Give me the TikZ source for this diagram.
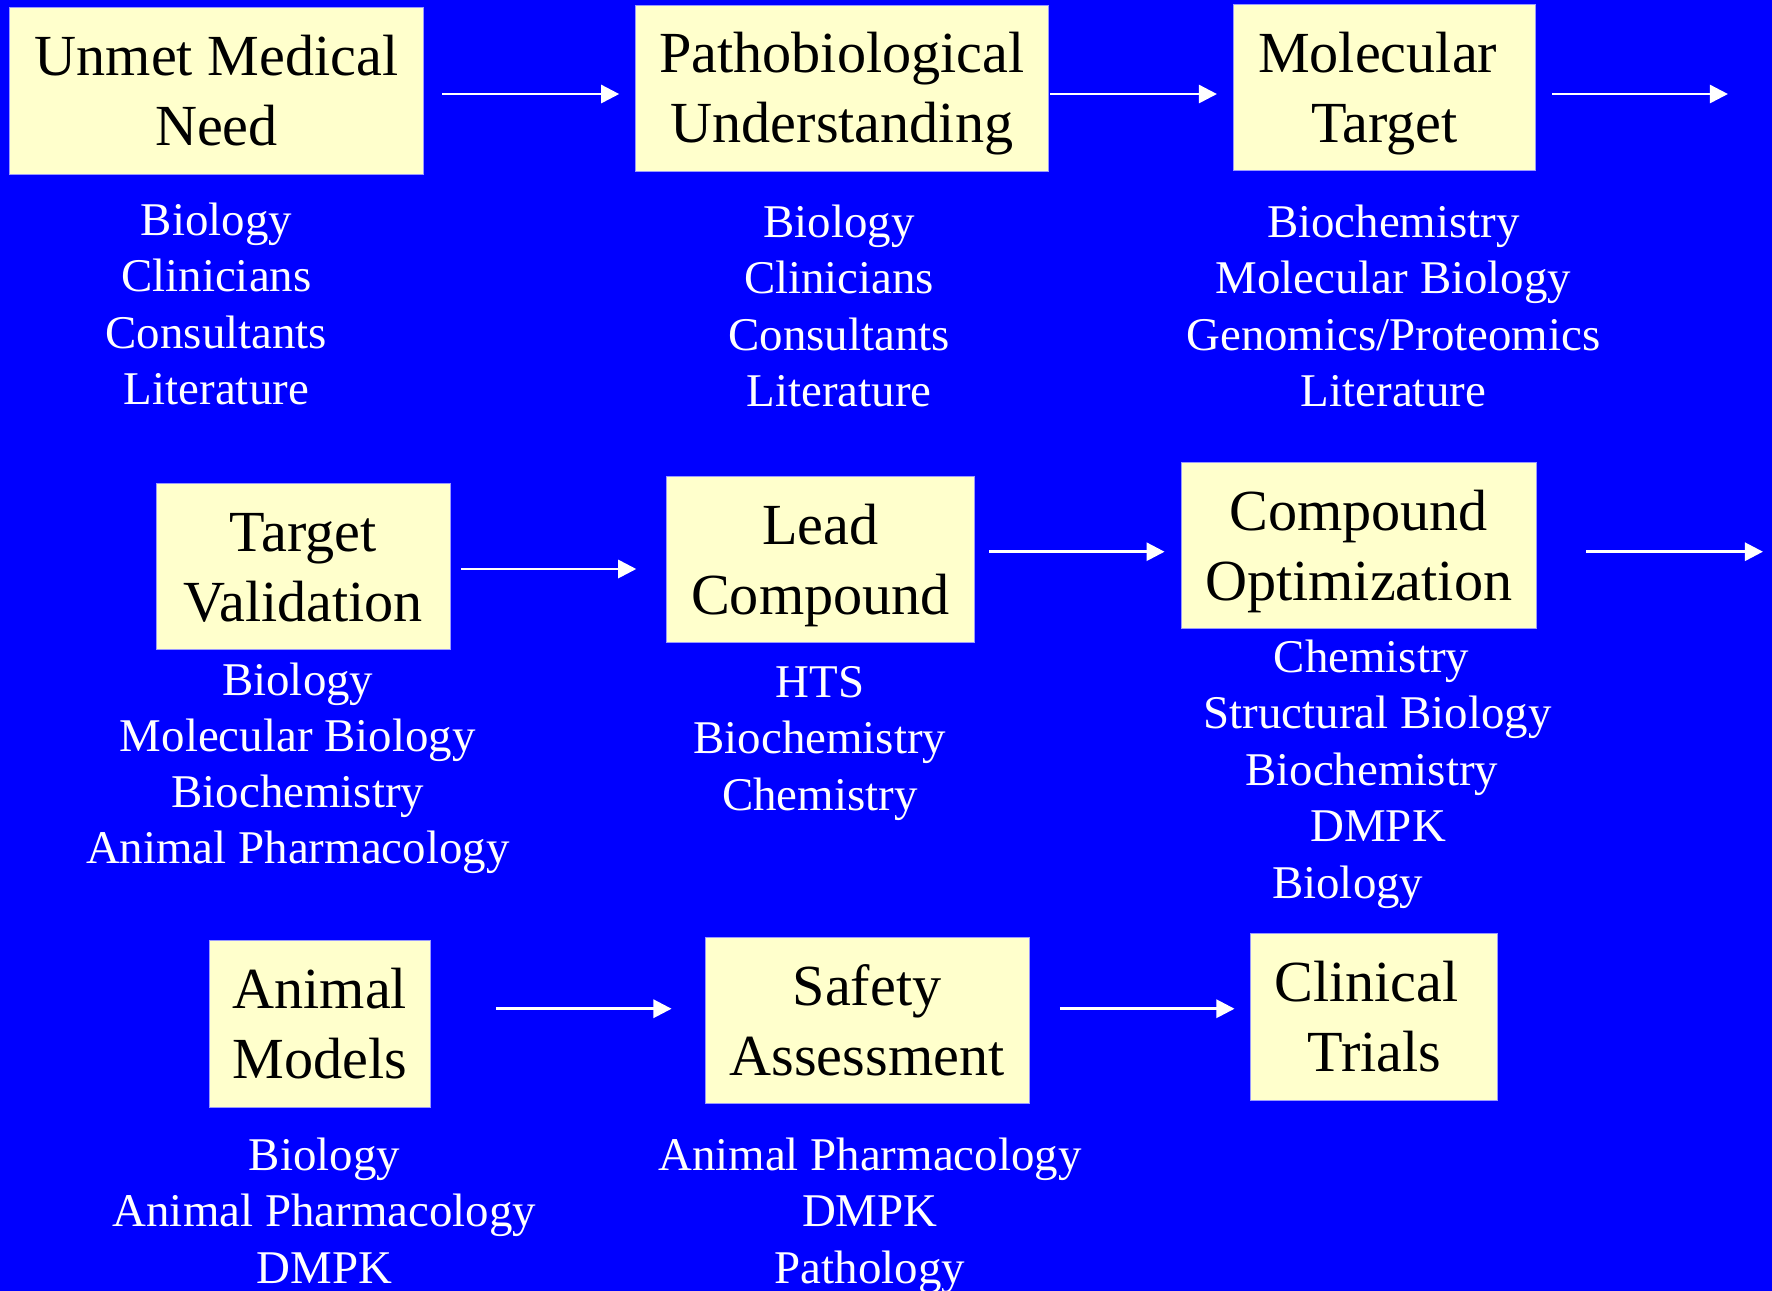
\documentclass[tikz,border=0pt]{standalone}
\usepackage{fontspec}
\setmainfont{Liberation Serif}
\usetikzlibrary{arrows.meta}
\definecolor{bgblue}{HTML}{0000FF}
\definecolor{boxyellow}{HTML}{FFFFCC}
\definecolor{boxedge}{HTML}{9999FF}
\begin{document}
\begin{tikzpicture}[x=1pt,y=-1pt,
  box/.style={fill=boxyellow, draw=boxedge, line width=0.8pt, inner sep=0pt, align=center,
    font=\fontsize{51.5}{62}\selectfont, text=black,
    execute at begin node={\rule{0pt}{109pt}}, execute at end node={\rule[-12pt]{0pt}{12pt}}},
  lbl/.style={text=white, font=\fontsize{41.5}{50}\selectfont, inner sep=0pt, anchor=base},
  arr/.style={draw=white, line width=2.4pt, -{Triangle[length=16pt, width=16pt]}, white}]
\fill[bgblue] (0,0) rectangle (1568,1142);
\useasboundingbox (0,0) rectangle (1568,1142);

% boxes
\node[box, minimum width=366, minimum height=147.5] (n1) at (191.6,80.2) {Unmet Medical\\Need};
\node[box, minimum width=366, minimum height=147] (n2) at (745,78) {Pathobiological\\Understanding};
\node[box, minimum width=267.5, minimum height=147] (n3) at (1225,77.7) {Molecular\hspace*{12pt}\\Target};
\node[box, minimum width=260.3, minimum height=147] (n4) at (268.4,501.1) {Target\\Validation};
\node[box, minimum width=272, minimum height=147] (n5) at (726,495.3) {Lead\\Compound};
\node[box, minimum width=314.2, minimum height=147] (n6) at (1202.3,482.9) {Compound\\Optimization};
\node[box, minimum width=196, minimum height=147] (n7) at (283,906.1) {Animal\\Models};
\node[box, minimum width=286.7, minimum height=147] (n8) at (767.2,903.2) {Safety\\Assessment};
\node[box, minimum width=218.4, minimum height=147.5] (n9) at (1216.1,899.6) {Clinical\hspace*{14pt}\\Trials};

% free arrow ends
\coordinate (e1) at (1529,83.2);
\coordinate (e2) at (1560,488.2);

% arrows
\draw[arr, shorten <=16.5pt, shorten >=13.7pt] (n1.east |- 0,83.2) -- (n2.west |- 0,83.2);
\draw[arr, shorten <=1pt, shorten >=14pt] (n2.east |- 0,83.2) -- (n3.west |- 0,83.2);
\draw[arr, shorten <=14.2pt] (n3.east |- e1) -- (e1);
\draw[arr, shorten <=9pt, shorten >=26.6pt] (n4.east |- 0,503.5) -- (n5.west |- 0,503.5);
\draw[arr, shorten <=13pt, shorten >=14.3pt] (n5.east |- 0,488.2) -- (n6.west |- 0,488.2);
\draw[arr, shorten <=43.9pt] (n6.east |- e2) -- (e2);
\draw[arr, shorten <=57.8pt, shorten >=29.2pt] (n7.east |- 0,892.6) -- (n8.west |- 0,892.6);
\draw[arr, shorten <=26.8pt, shorten >=14.1pt] (n8.east |- 0,892.6) -- (n9.west |- 0,892.6);

% labels row 1
\node[lbl] (a1) at (191.5,208) {Biology};
\node[lbl] (a2) at (191.5,258) {Clinicians};
\node[lbl] (a3) at (191.5,308) {Consultants};
\node[lbl] (a4) at (191.5,357.5) {Literature};
\node[lbl] (b1) at (742.5,210) {Biology};
\node[lbl] (b2) at (742.5,260) {Clinicians};
\node[lbl] (b3) at (742.5,310) {Consultants};
\node[lbl] (b4) at (742.5,360) {Literature};
\node[lbl] (c1) at (1233,210) {Biochemistry};
\node[lbl] (c2) at (1233,260) {Molecular Biology};
\node[lbl] (c3) at (1233,310) {Genomics/Proteomics};
\node[lbl] (c4) at (1233,359.5) {Literature};
% labels row 2
\node[lbl] (d1) at (263.5,615) {Biology};
\node[lbl] (d2) at (263.5,665) {Molecular Biology};
\node[lbl] (d3) at (263.5,714.5) {Biochemistry};
\node[lbl] (d4) at (263.5,764) {Animal Pharmacology};
\node[lbl] (f1) at (725.5,617) {HTS};
\node[lbl] (f2) at (725.5,667) {Biochemistry};
\node[lbl] (f3) at (725.5,717) {Chemistry};
\node[lbl] (g1) at (1213.6,595.3) {Chemistry};
\node[lbl] (g2) at (1219,645) {Structural Biology};
\node[lbl] (g3) at (1213.8,694.8) {Biochemistry};
\node[lbl] (g4) at (1219.5,744.8) {DMPK};
\node[lbl] (g5) at (1192.6,794.8) {Biology};
% labels row 3
\node[lbl] (h1) at (287,1036) {Biology};
\node[lbl] (h2) at (287,1085.5) {Animal Pharmacology};
\node[lbl] (h3) at (287,1135.5) {DMPK};
\node[lbl] (k1) at (769.7,1036) {Animal Pharmacology};
\node[lbl] (k2) at (769.7,1085.5) {DMPK};
\node[lbl] (k3) at (769.7,1135.5) {Pathology};
\end{tikzpicture}
\end{document}
